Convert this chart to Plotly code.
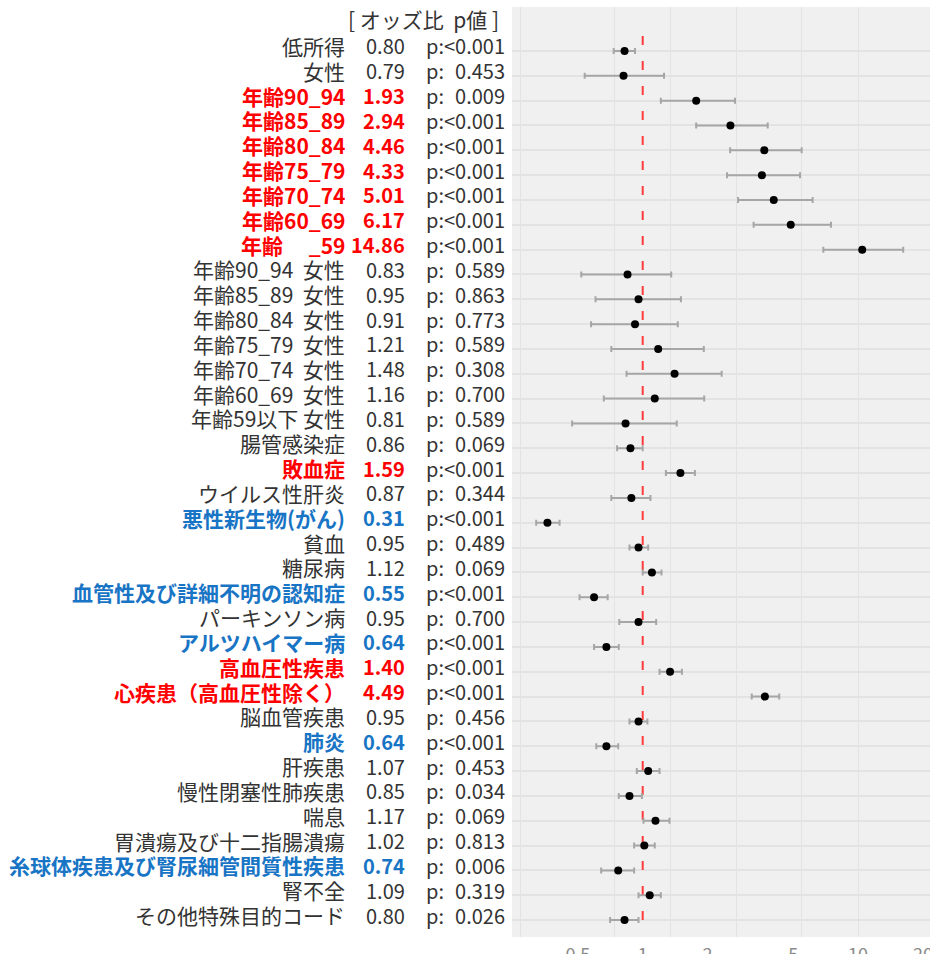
import plotly.graph_objects as go

# ---- data -------------------------------------------------------------
labels = [
    "低所得", "女性",
    "年齢90_94", "年齢85_89", "年齢80_84", "年齢75_79", "年齢70_74", "年齢60_69",
    "年齢\u3000 _59",
    "年齢90_94\u00a0\u00a0女性", "年齢85_89\u00a0\u00a0女性", "年齢80_84\u00a0\u00a0女性",
    "年齢75_79\u00a0\u00a0女性", "年齢70_74\u00a0\u00a0女性", "年齢60_69\u00a0\u00a0女性",
    "年齢59以下\u00a0女性",
    "腸管感染症", "敗血症", "ウイルス性肝炎", "悪性新生物(がん)", "貧血", "糖尿病",
    "血管性及び詳細不明の認知症", "パーキンソン病", "アルツハイマー病", "高血圧性疾患",
    "心疾患（高血圧性除く）", "脳血管疾患", "肺炎", "肝疾患", "慢性閉塞性肺疾患", "喘息",
    "胃潰瘍及び十二指腸潰瘍", "糸球体疾患及び腎尿細管間質性疾患", "腎不全", "その他特殊目的コード",
]
odds_ratio = [
    0.80, 0.79, 1.93, 2.94, 4.46, 4.33, 5.01, 6.17, 14.86,
    0.83, 0.95, 0.91, 1.21, 1.48, 1.16, 0.81,
    0.86, 1.59, 0.87, 0.31, 0.95, 1.12, 0.55, 0.95, 0.64, 1.40,
    4.49, 0.95, 0.64, 1.07, 0.85, 1.17, 1.02, 0.74, 1.09, 0.80,
]
ci_low = [
    0.70, 0.49, 1.25, 1.93, 2.93, 2.82, 3.23, 3.91, 9.21,
    0.47, 0.56, 0.53, 0.68, 0.82, 0.62, 0.42,
    0.73, 1.33, 0.68, 0.27, 0.85, 1.00, 0.46, 0.75, 0.55, 1.23,
    3.82, 0.85, 0.565, 0.93, 0.745, 1.01, 0.90, 0.60, 0.95, 0.67,
]
ci_high = [
    0.91, 1.30, 3.11, 4.65, 7.06, 6.92, 8.08, 10.12, 24.6,
    1.42, 1.60, 1.54, 2.12, 2.64, 2.13, 1.52,
    1.00, 1.90, 1.10, 0.36, 1.07, 1.26, 0.65, 1.18, 0.745, 1.62,
    5.36, 1.06, 0.74, 1.23, 0.99, 1.39, 1.16, 0.90, 1.25, 0.95,
]
p_values = [
    "<0.001", "0.453", "0.009", "<0.001", "<0.001", "<0.001", "<0.001", "<0.001", "<0.001",
    "0.589", "0.863", "0.773", "0.589", "0.308", "0.700", "0.589",
    "0.069", "<0.001", "0.344", "<0.001", "0.489", "0.069", "<0.001", "0.700", "<0.001", "<0.001",
    "<0.001", "0.456", "<0.001", "0.453", "0.034", "0.069", "0.813", "0.006", "0.319", "0.026",
]
# "up" = significantly raised risk, "down" = significantly lowered risk
highlight = [
    None, None, "up", "up", "up", "up", "up", "up", "up",
    None, None, None, None, None, None, None,
    None, "up", None, "down", None, None, "down", None, "down", "up",
    "up", None, "down", None, None, None, None, "down", None, None,
]
axis_breaks = [0.1, 0.5, 1, 2, 5, 10, 20]
axis_labels = ["0.5", "1", "2", "5", "10", "20"]

# ---- styling ------------------------------------------------------------
FONT = "Noto Sans CJK JP"
TEXT_GREY = "#333333"
HL_COLOR = {"up": "#FF0000", "down": "#1874C4"}
PANEL_BG = "#F0F0F0"
GRID = "#E3E3E3"

W, H = 930, 954
PANEL_LEFT, PANEL_TOP, PANEL_BOTTOM = 512, 7, 937
GRID_END = 908

rows = list(range(1, len(labels) + 1))
# grid lines sit half way (in log space) between the axis breaks
grid_vals = [(a * b) ** 0.5 for a, b in zip(axis_breaks[:-1], axis_breaks[1:])]

fig = go.Figure()

# reference line at OR = 1
fig.add_trace(go.Scatter(
    x=[1, 1], y=[0.4, len(labels) + 0.3], mode="lines",
    line=dict(color="#FF3B3B", width=2, dash="9px,16px"),
    hoverinfo="skip", showlegend=False,
))

# odds ratios with 95% confidence intervals
fig.add_trace(go.Scatter(
    x=odds_ratio, y=rows, mode="markers",
    marker=dict(color="black", size=8),
    error_x=dict(
        type="data", symmetric=False,
        array=[hi - o for hi, o in zip(ci_high, odds_ratio)],
        arrayminus=[o - lo for lo, o in zip(ci_low, odds_ratio)],
        color="#A6A6A6", thickness=2, width=3,
    ),
    showlegend=False,
))

# table of labels / odds ratios / p values on the left
ann = []
for r, name, o, p, hl in zip(rows, labels, odds_ratio, p_values, highlight):
    col = HL_COLOR[hl] if hl else TEXT_GREY
    wrap = (lambda s: f"<b>{s}</b>") if hl else (lambda s: s)
    ann.append(dict(x=345 / W, y=r, text=wrap(name), xanchor="right",
                    font=dict(color=col, size=21)))
    ann.append(dict(x=405 / W, y=r, text=wrap(f"{o:.2f}"), xanchor="right",
                    font=dict(color=col, size=20)))
    ptxt = "p:&lt;0.001" if p.startswith("<") else "p:\u2007" + p
    ann.append(dict(x=505 / W, y=r, text=ptxt, xanchor="right",
                    font=dict(color=TEXT_GREY, size=20)))
for a in ann:
    a.update(xref="paper", yref="y", yanchor="middle", yshift=5, showarrow=False,
             borderpad=0, borderwidth=0)
    a["font"].update(family=FONT)
ann.append(dict(x=423 / W, y=0, xref="paper", yref="y", yshift=7,
                text="[ オッズ比\u00a0\u00a0p値 ]", showarrow=False,
                borderpad=0, borderwidth=0,
                font=dict(family=FONT, size=21, color=TEXT_GREY)))

y_dom = [1 - PANEL_BOTTOM / H, 1 - PANEL_TOP / H]
row_px = 24.83
first_px = 51
y_top = 1 + (PANEL_TOP - first_px) / row_px
y_bot = 1 + (PANEL_BOTTOM - first_px) / row_px

fig.update_layout(
    width=W, height=H,
    margin=dict(l=0, r=0, t=0, b=0, autoexpand=False),
    paper_bgcolor="white", plot_bgcolor=PANEL_BG,
    annotations=ann,
    xaxis=dict(
        type="log", domain=[PANEL_LEFT / W, 1],
        range=[-0.6978, 1.5339], automargin=False,
        tickmode="array", tickvals=grid_vals, showticklabels=False, ticks="",
        showgrid=True, gridcolor=GRID, gridwidth=1, zeroline=False, showline=False,
    ),
    xaxis2=dict(
        type="log", overlaying="x", anchor="y", side="bottom",
        range=[-0.6068, 1.3338], automargin=False,
        tickmode="array", tickvals=axis_breaks[1:], ticktext=axis_labels,
        tickfont=dict(family=FONT, size=18, color="#8A8A8A"),
        ticklabelstandoff=5, ticklabeloverflow="allow",
        showgrid=False, zeroline=False, showline=False, ticks="",
    ),
    yaxis=dict(
        domain=y_dom, range=[y_bot, y_top], automargin=False,
        tickmode="array", tickvals=rows, showticklabels=False, ticks="",
        showgrid=True, gridcolor=GRID, gridwidth=2, zeroline=False, showline=False,
    ),
    shapes=[dict(
        type="rect", xref="paper", yref="paper", layer="between",
        x0=GRID_END / W, x1=1, y0=y_dom[0], y1=y_dom[1],
        fillcolor=PANEL_BG, line=dict(width=0),
    )],
    font=dict(family=FONT),
)
# keep the label axis alive even without its own data
fig.add_trace(go.Scatter(x=[], y=[], xaxis="x2", showlegend=False, hoverinfo="skip"))

fig.write_html("out.html")
